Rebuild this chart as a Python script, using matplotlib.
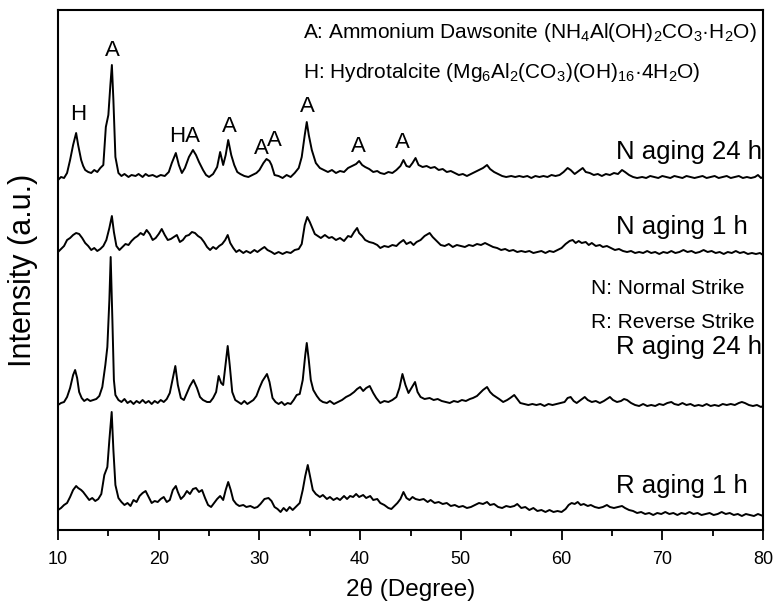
import matplotlib
matplotlib.use("Agg")
import matplotlib.pyplot as plt
from matplotlib.ticker import MultipleLocator

plt.rcParams['font.family'] = ['Liberation Sans', 'DejaVu Sans']
plt.rcParams['mathtext.fontset'] = 'custom'
plt.rcParams['mathtext.rm'] = 'Liberation Sans'
plt.rcParams['mathtext.it'] = 'Liberation Sans:italic'
plt.rcParams['mathtext.bf'] = 'Liberation Sans:bold'
plt.rcParams['mathtext.default'] = 'regular'

# ---------------- data (2theta in degrees, intensity in a.u. above each trace's baseline) -------------
n24_x = [10.0, 10.3, 10.6, 10.9, 11.2, 11.5, 11.8, 12.0, 12.3, 12.5, 12.7, 13.0, 13.3, 13.6, 13.9, 14.2, 14.5,
         14.75, 15.0, 15.2, 15.35, 15.5, 15.7, 16.0, 16.3, 16.6, 17.0, 17.3, 17.7, 18.0, 18.4, 18.7, 19.0, 19.4,
         19.8, 20.2, 20.6, 21.0, 21.3, 21.7, 22.0, 22.3, 22.6, 23.0, 23.4, 23.7, 24.0, 24.4, 24.7, 25.0, 25.4,
         25.8, 26.1, 26.4, 26.65, 26.9, 27.2, 27.5, 27.8, 28.1, 28.5, 28.9, 29.3, 29.7, 30.0, 30.4, 30.7, 31.0,
         31.2, 31.5, 31.9, 32.3, 32.7, 33.1, 33.5, 33.9, 34.2, 34.5, 34.7, 34.9, 35.2, 35.6, 36.0, 36.4, 36.8,
         37.2, 37.6, 38.0, 38.4, 38.8, 39.2, 39.6, 39.9, 40.2, 40.5, 40.9, 41.3, 41.7, 42.0, 42.4, 42.8, 43.2,
         43.6, 44.0, 44.3, 44.6, 44.9, 45.2, 45.5, 45.8, 46.2, 46.6, 47.0, 47.4, 47.8, 48.2, 48.6, 49.0, 49.4,
         49.8, 50.2, 50.6, 51.0, 51.4, 51.8, 52.2, 52.6, 52.9, 53.3, 53.7, 54.1, 54.5, 55.0, 55.4, 55.8, 56.2,
         56.6, 57.0, 57.4, 57.8, 58.2, 58.6, 59.0, 59.4, 59.8, 60.2, 60.6, 60.9, 61.3, 61.7, 62.1, 62.4, 62.8,
         63.2, 63.6, 64.0, 64.4, 64.8, 65.2, 65.6, 66.0, 66.3, 66.7, 67.1, 67.5, 68.0, 68.4, 68.8, 69.2, 69.6,
         70.0, 70.4, 70.8, 71.2, 71.6, 72.0, 72.4, 72.8, 73.2, 73.6, 74.0, 74.4, 74.8, 75.2, 75.6, 76.0, 76.4,
         76.8, 77.2, 77.6, 78.0, 78.4, 78.8, 79.2, 79.5, 79.8, 80.0]
n24_y = [0, 3, 2, 7, 20, 35, 47, 35, 20, 14, 10, 8, 7, 10, 8, 12, 15,
         53, 65, 95, 115, 80, 23, 7, 4, 6, 3, 5, 4, 6, 3, 6, 4, 5,
         3, 5, 4, 8, 17, 27, 15, 7, 12, 23, 30, 25, 18, 10, 5, 3, 6,
         13, 28, 15, 25, 40, 25, 15, 8, 6, 4, 3, 5, 7, 10, 17, 21, 19,
         15, 5, 4, 2, 5, 3, 7, 12, 23, 45, 58, 45, 30, 17, 12, 10, 8,
         10, 7, 9, 8, 12, 14, 16, 19, 15, 13, 11, 8, 9, 7, 6, 8, 7,
         10, 14, 20, 14, 13, 17, 22, 15, 13, 14, 12, 13, 10, 11, 8, 9, 7,
         5, 6, 4, 6, 8, 10, 12, 15, 11, 8, 6, 4, 3, 4, 3, 4, 3,
         4, 2, 4, 3, 4, 3, 5, 4, 5, 8, 12, 10, 6, 9, 12, 8, 7,
         5, 6, 4, 6, 5, 7, 6, 10, 8, 5, 3, 2, 3, 2, 4, 3, 2,
         4, 3, 2, 4, 3, 2, 4, 3, 2, 3, 4, 2, 3, 4, 2, 3, 4,
         2, 3, 4, 2, 3, 2, 3, 5, 2, 3]

n1_x = [10.0, 10.3, 10.6, 10.9, 11.2, 11.5, 11.8, 12.1, 12.4, 12.7, 13.0, 13.3, 13.6, 13.9, 14.2, 14.5, 14.8,
        15.1, 15.35, 15.55, 15.8, 16.1, 16.4, 16.7, 17.0, 17.3, 17.6, 17.9, 18.2, 18.5, 18.8, 19.1, 19.4, 19.7,
        20.0, 20.3, 20.6, 20.9, 21.2, 21.5, 21.8, 22.1, 22.4, 22.7, 23.0, 23.3, 23.6, 23.9, 24.2, 24.5, 24.8,
        25.1, 25.4, 25.7, 26.0, 26.3, 26.6, 26.85, 27.1, 27.4, 27.7, 28.0, 28.4, 28.7, 29.1, 29.5, 29.8, 30.2,
        30.5, 30.8, 31.2, 31.5, 31.9, 32.3, 32.7, 33.1, 33.5, 33.9, 34.2, 34.5, 34.75, 35.0, 35.25, 35.5, 35.8,
        36.1, 36.5, 36.9, 37.2, 37.6, 38.0, 38.4, 38.8, 39.1, 39.4, 39.7, 39.9, 40.2, 40.5, 40.9, 41.3, 41.7,
        42.0, 42.4, 42.8, 43.2, 43.6, 43.9, 44.3, 44.6, 45.0, 45.3, 45.6, 46.0, 46.4, 46.9, 47.2, 47.6, 48.0,
        48.4, 48.8, 49.2, 49.6, 50.0, 50.4, 50.8, 51.2, 51.6, 52.0, 52.4, 52.8, 53.2, 53.6, 54.0, 54.4, 54.8,
        55.2, 55.6, 56.0, 56.4, 56.8, 57.2, 57.6, 58.0, 58.4, 58.8, 59.2, 59.6, 60.0, 60.4, 60.8, 61.1, 61.4,
        61.7, 62.0, 62.4, 62.7, 63.0, 63.4, 63.8, 64.1, 64.5, 64.9, 65.3, 65.7, 66.1, 66.5, 66.9, 67.3, 67.7,
        68.1, 68.5, 68.9, 69.3, 69.7, 70.1, 70.5, 70.9, 71.3, 71.7, 72.1, 72.5, 72.9, 73.3, 73.7, 74.1, 74.5,
        74.9, 75.3, 75.7, 76.1, 76.5, 76.9, 77.3, 77.7, 78.1, 78.5, 78.9, 79.3, 79.7, 80.0]
n1_y = [3, 6, 9, 15, 17, 20, 22, 21, 17, 12, 9, 5, 7, 4, 6, 9, 15,
        27, 39, 23, 9, 5, 8, 11, 10, 14, 17, 19, 22, 20, 25, 21, 15, 17,
        21, 26, 20, 15, 16, 18, 20, 13, 15, 19, 20, 23, 22, 19, 17, 13, 8,
        5, 8, 6, 9, 11, 15, 20, 12, 7, 3, 5, 2, 4, 2, 5, 3, 6,
        8, 5, 3, 1, 3, 1, 3, 2, 5, 6, 11, 30, 38, 33, 27, 21, 19,
        17, 20, 17, 18, 15, 17, 14, 19, 18, 23, 27, 22, 19, 15, 13, 12, 10,
        7, 9, 8, 10, 9, 12, 15, 11, 13, 10, 13, 15, 19, 22, 18, 14, 10,
        9, 11, 8, 10, 9, 8, 10, 9, 11, 10, 12, 10, 8, 7, 5, 6, 4,
        5, 3, 4, 3, 4, 2, 3, 4, 2, 4, 3, 5, 7, 11, 14, 15, 12,
        14, 12, 13, 10, 12, 9, 10, 8, 9, 7, 5, 6, 4, 3, 4, 2, 3,
        2, 4, 2, 3, 1, 3, 2, 4, 2, 3, 5, 3, 4, 2, 3, 5, 3,
        4, 2, 3, 1, 3, 2, 4, 2, 3, 1, 2, 1, 2, 0]

r24_x = [10.0, 10.3, 10.6, 10.9, 11.2, 11.5, 11.7, 11.9, 12.1, 12.35, 12.6, 12.9, 13.2, 13.5, 13.8, 14.1, 14.4,
         14.7, 14.9, 15.1, 15.23, 15.4, 15.55, 15.7, 16.0, 16.3, 16.6, 16.9, 17.2, 17.5, 17.8, 18.1, 18.4, 18.7,
         19.0, 19.3, 19.6, 19.9, 20.2, 20.5, 20.8, 21.1, 21.4, 21.65, 21.9, 22.2, 22.5, 22.8, 23.1, 23.45, 23.8,
         24.1, 24.4, 24.8, 25.1, 25.4, 25.7, 25.95, 26.2, 26.4, 26.6, 26.85, 27.05, 27.3, 27.6, 27.9, 28.2, 28.5,
         28.8, 29.1, 29.4, 29.7, 30.0, 30.3, 30.75, 31.0, 31.3, 31.6, 31.9, 32.2, 32.5, 32.8, 33.1, 33.4, 33.7,
         34.0, 34.3, 34.55, 34.7, 34.9, 35.1, 35.35, 35.7, 36.0, 36.3, 36.7, 37.0, 37.4, 37.8, 38.2, 38.6, 39.0,
         39.4, 39.7, 40.0, 40.3, 40.6, 40.95, 41.3, 41.6, 42.0, 42.4, 42.8, 43.2, 43.6, 43.9, 44.2, 44.5, 44.8,
         45.1, 45.45, 45.7, 46.0, 46.4, 46.9, 47.3, 47.7, 48.1, 48.5, 48.9, 49.3, 49.7, 50.1, 50.5, 50.9, 51.2,
         51.6, 51.9, 52.2, 52.6, 52.9, 53.2, 53.5, 53.8, 54.2, 54.6, 54.9, 55.3, 55.6, 55.9, 56.3, 56.7, 57.1,
         57.5, 57.9, 58.3, 58.7, 59.1, 59.5, 59.9, 60.3, 60.6, 60.9, 61.2, 61.5, 61.9, 62.3, 62.6, 63.0, 63.4,
         63.8, 64.2, 64.5, 64.8, 65.1, 65.5, 65.9, 66.2, 66.5, 66.9, 67.3, 67.7, 68.1, 68.5, 68.9, 69.3, 69.7,
         70.1, 70.5, 70.9, 71.2, 71.6, 72.0, 72.4, 72.8, 73.2, 73.6, 74.0, 74.4, 74.8, 75.2, 75.6, 76.0, 76.4,
         76.8, 77.2, 77.6, 77.9, 78.2, 78.6, 79.0, 79.4, 79.8, 80.0]
r24_y = [2, 4, 5, 10, 19, 32, 37, 29, 15, 9, 6, 8, 6, 7, 8, 11, 20,
         42, 60, 107, 150, 87, 27, 12, 7, 5, 8, 4, 6, 3, 6, 4, 7, 4,
         6, 3, 6, 4, 7, 5, 8, 14, 29, 41, 22, 9, 7, 14, 21, 27, 19,
         10, 7, 5, 5, 9, 15, 31, 24, 22, 39, 61, 42, 15, 7, 5, 3, 6,
         3, 5, 7, 11, 19, 26, 33, 25, 9, 5, 3, 5, 2, 4, 3, 7, 12,
         13, 27, 52, 64, 47, 27, 17, 11, 7, 5, 4, 6, 3, 5, 7, 10, 12,
         15, 18, 20, 16, 19, 21, 14, 9, 4, 6, 5, 7, 10, 19, 33, 22, 14,
         19, 25, 15, 10, 8, 9, 7, 8, 6, 5, 4, 6, 5, 7, 6, 8, 9,
         11, 14, 17, 20, 15, 12, 10, 8, 5, 7, 9, 12, 8, 4, 3, 2, 3,
         2, 3, 1, 3, 2, 3, 4, 5, 9, 10, 6, 4, 7, 10, 7, 5, 6,
         4, 6, 8, 10, 7, 5, 6, 8, 7, 4, 2, 1, 3, 1, 2, 1, 3,
         2, 4, 5, 3, 2, 4, 2, 3, 1, 2, 1, 3, 1, 2, 1, 3, 2,
         3, 2, 4, 5, 4, 2, 1, 2, 0, 1]

r1_x = [10.0, 10.3, 10.6, 10.9, 11.2, 11.5, 11.8, 12.0, 12.3, 12.5, 12.8, 13.1, 13.4, 13.7, 14.0, 14.3, 14.6,
        14.9, 15.1, 15.33, 15.5, 15.7, 16.0, 16.3, 16.6, 16.9, 17.2, 17.5, 17.8, 18.1, 18.4, 18.7, 19.0, 19.3,
        19.6, 19.9, 20.2, 20.5, 20.8, 21.1, 21.4, 21.7, 21.9, 22.2, 22.5, 22.8, 23.1, 23.4, 23.7, 24.0, 24.3,
        24.6, 24.9, 25.2, 25.5, 25.8, 26.1, 26.4, 26.65, 26.9, 27.15, 27.4, 27.7, 28.0, 28.4, 28.7, 29.1, 29.5,
        29.8, 30.1, 30.5, 30.9, 31.2, 31.5, 31.8, 32.1, 32.4, 32.7, 33.0, 33.3, 33.7, 34.0, 34.3, 34.55, 34.8,
        35.0, 35.3, 35.6, 36.0, 36.3, 36.7, 37.0, 37.35, 37.7, 38.0, 38.4, 38.7, 39.0, 39.3, 39.6, 39.9, 40.3,
        40.6, 41.0, 41.3, 41.7, 42.0, 42.4, 42.8, 43.1, 43.4, 43.7, 44.0, 44.3, 44.6, 44.9, 45.2, 45.5, 45.9,
        46.3, 46.7, 47.0, 47.4, 47.8, 48.2, 48.6, 49.0, 49.4, 49.8, 50.2, 50.6, 51.0, 51.4, 51.8, 52.2, 52.6,
        52.9, 53.3, 53.7, 54.1, 54.5, 54.9, 55.3, 55.6, 56.0, 56.4, 56.8, 57.2, 57.6, 58.0, 58.4, 58.8, 59.2,
        59.6, 60.0, 60.4, 60.7, 61.0, 61.3, 61.6, 61.9, 62.2, 62.6, 62.9, 63.3, 63.7, 64.1, 64.5, 64.8, 65.2,
        65.6, 66.0, 66.3, 66.7, 67.1, 67.5, 67.9, 68.3, 68.7, 69.1, 69.5, 69.9, 70.3, 70.7, 71.1, 71.5, 71.9,
        72.3, 72.7, 73.1, 73.5, 73.9, 74.3, 74.7, 75.1, 75.5, 75.9, 76.3, 76.7, 77.1, 77.5, 77.9, 78.3, 78.7,
        79.1, 79.5, 80.0]
r1_y = [7, 9, 12, 14, 20, 27, 31, 29, 27, 25, 21, 17, 19, 16, 18, 23, 42,
        50, 77, 105, 67, 32, 19, 15, 12, 14, 11, 17, 15, 21, 24, 26, 20, 14,
        16, 15, 18, 20, 15, 17, 27, 31, 25, 18, 21, 26, 23, 28, 29, 25, 27,
        19, 12, 10, 14, 18, 21, 17, 27, 35, 27, 17, 13, 11, 12, 10, 11, 9,
        10, 13, 18, 19, 16, 10, 8, 5, 9, 6, 10, 7, 11, 14, 27, 41, 52,
        42, 27, 23, 20, 22, 18, 20, 17, 19, 17, 21, 18, 21, 20, 23, 20, 22,
        19, 21, 17, 18, 14, 12, 9, 8, 11, 14, 18, 25, 19, 17, 20, 18, 17,
        18, 15, 17, 14, 15, 13, 14, 11, 12, 10, 11, 9, 10, 12, 14, 13, 15,
        12, 13, 10, 9, 11, 10, 11, 13, 9, 10, 7, 9, 6, 7, 5, 7, 5,
        6, 5, 8, 12, 14, 13, 15, 12, 13, 11, 12, 10, 9, 10, 12, 10, 9,
        10, 11, 9, 7, 6, 4, 5, 3, 4, 2, 4, 3, 5, 3, 4, 2, 4,
        3, 5, 3, 4, 2, 3, 4, 2, 3, 5, 3, 4, 2, 3, 1, 3, 2,
        1, 3, 1]

series_names = ["N aging 24 h", "N aging 1 h", "R aging 24 h", "R aging 1 h"]
peak_labels = ["H", "A", "HA", "A", "A", "A", "A", "A", "A"]
peak_label_2theta = [12.0, 15.36, 22.6, 27.0, 30.16, 31.45, 34.73, 39.8, 44.16]

# ---------------- figure ----------------
W, H = 776, 609
fig = plt.figure(figsize=(W / 100, H / 100), dpi=100)
ax = fig.add_axes([58 / W, 79 / H, 705 / W, 520 / H])

offsets = [350, 275, 123, 13]
for xs, ys, off in zip([n24_x, n1_x, r24_x, r1_x], [n24_y, n1_y, r24_y, r1_y], offsets):
    ax.plot(xs, [v + off for v in ys], color='black', lw=1.4, solid_joinstyle='round')

ax.set_xlim(10, 80)
ax.set_ylim(0, 520)
ax.set_yticks([])
ax.xaxis.set_major_locator(MultipleLocator(10))
ax.xaxis.set_minor_locator(MultipleLocator(5))
ax.tick_params(axis='x', which='major', direction='out', length=7, width=1.3, labelsize=13, pad=8)
ax.tick_params(axis='x', which='minor', direction='out', length=4, width=1.3)
for sp in ax.spines.values():
    sp.set_linewidth(1.5)

ax.set_xlabel("2θ (Degree)", fontsize=17.5, labelpad=7)
ax.set_ylabel("Intensity (a.u.)", fontsize=22)
ax.yaxis.set_label_coords(-0.028, 0.5)

# peak labels
peak_label_y = [415, 480, 393, 404, 382, 390, 423, 383, 388]
for lab, px, py in zip(peak_labels, peak_label_2theta, peak_label_y):
    ax.text(px, py, lab, fontsize=16, ha='center', va='center')

# trace labels
trace_pos = [(79.95, 378), (78.5, 303), (79.95, 183), (78.5, 44)]
for name, (tx, ty) in zip(series_names, trace_pos):
    ax.text(tx, ty, name, fontsize=18.5, ha='right', va='center')

ax.text(34.3, 498, "A: Ammonium Dawsonite (NH$_4$Al(OH)$_2$CO$_3$·H$_2$O)", fontsize=15, ha='left', va='center')
ax.text(34.3, 458, "H: Hydrotalcite (Mg$_6$Al$_2$(CO$_3$)(OH)$_{16}$·4H$_2$O)", fontsize=15, ha='left', va='center')
ax.text(62.9, 241, "N: Normal Strike", fontsize=15, ha='left', va='center')
ax.text(62.9, 208, "R: Reverse Strike", fontsize=15, ha='left', va='center')

fig.savefig("out.png", dpi=100)
